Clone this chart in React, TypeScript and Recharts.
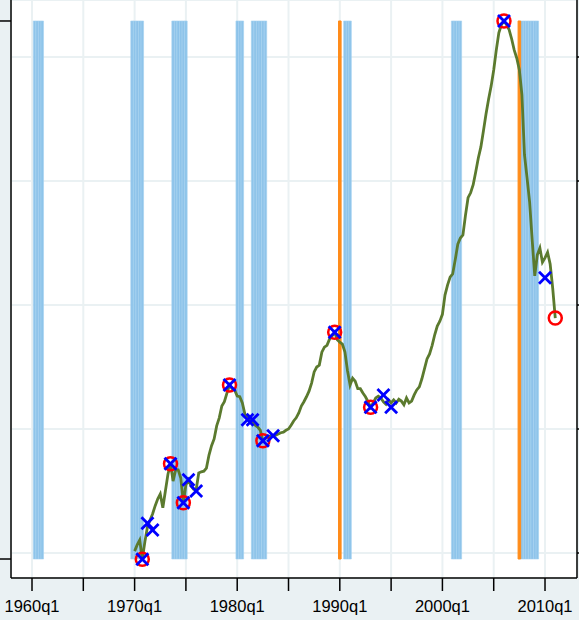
import {
  CartesianGrid,
  ComposedChart,
  Line,
  ReferenceArea,
  Scatter,
  XAxis,
  YAxis,
} from 'recharts';

// quarters counted from 1960q1 = 0
const firstQuarter = 40; // 1970q1

const housePrice = [
  80.3, 81.3, 82.1, 79.0, 81.8, 84.2, 85.3, 86.3, 87.6, 88.7,
  89.5, 87.3, 90.0, 92.7, 94.4, 91.6, 93.4, 93.4, 92.1, 88.1,
  91.0, 91.8, 90.8, 90.3, 90.2, 92.9, 93.1, 93.2, 93.7, 95.8,
  97.3, 98.4, 100.5, 101.8, 103.7, 104.4, 105.8, 107.1, 106.5, 106.3,
  105.3, 105.2, 104.2, 102.4, 101.8, 101.5, 101.0, 100.6, 100.3, 99.8,
  98.1, 98.5, 98.7, 98.9, 98.9, 99.0, 99.2, 99.4, 99.5, 99.8,
  100.0, 100.6, 101.3, 101.8, 102.6, 103.7, 104.4, 105.2, 106.1, 107.4,
  109.2, 110.0, 110.3, 112.4, 113.2, 113.5, 114.5, 115.0, 115.6, 114.4,
  114.0, 113.7, 112.4, 109.4, 107.1, 108.2, 107.7, 106.5, 106.5, 105.8,
  105.2, 104.4, 103.5, 104.2, 105.0, 105.3, 105.0, 104.4, 104.0, 104.7,
  104.2, 104.7, 104.2, 104.8, 104.5, 103.9, 105.0, 104.2, 104.5, 105.5,
  106.3, 106.8, 108.1, 109.7, 111.3, 112.1, 113.5, 115.2, 116.6, 117.4,
  118.5, 121.6, 123.2, 124.5, 125.0, 127.3, 129.8, 130.8, 131.3, 134.5,
  137.3, 138.1, 139.4, 141.5, 143.7, 145.5, 148.1, 150.8, 153.2, 155.3,
  157.9, 161.1, 163.9, 165.2, 165.8, 165.2, 164.4, 162.9, 161.1, 159.8,
  157.9, 153.9, 144.2, 140.5, 136.6, 130.5, 124.7, 128.1, 129.2, 126.9,
  127.6, 128.5, 126.6, 122.7, 117.9,
];

const turnQuarters = [43, 54, 59, 77, 90, 118, 132, 184, 204];
const turnValues = [79.0, 94.4, 88.1, 107.1, 98.1, 115.6, 103.5, 165.8, 117.9];

const crossQuarters = [43, 45, 47, 54, 59, 61, 64, 77, 84, 86, 90, 94, 118, 132, 137, 140, 184, 200];
const crossValues = [
  79.0, 84.8, 83.7, 94.4, 88.1, 91.8, 90.0, 107.1, 101.5, 101.5,
  98.1, 98.9, 115.6, 103.5, 105.5, 103.5, 165.8, 124.4,
];

// NBER recessions, first and last quarter
const recessions = [
  [1, 4], [39, 43], [55, 60], [80, 82], [86, 91], [122, 124], [164, 167], [191, 197],
];
const crisisQuarters = [120, 190];

const xTicks = [0, 20, 40, 60, 80, 100, 120, 140, 160, 180, 200];
const priceTicks = [80, 100, 120, 140, 160];

const lineData = housePrice.map((v, i) => ({ q: firstQuarter + i, v }));
const turnData = turnQuarters.map((q, i) => ({ q, v: turnValues[i] }));
const crossData = crossQuarters.map((q, i) => ({ q, v: crossValues[i] }));
const recessionQuarters = recessions.flatMap(([a, b]) =>
  Array.from({ length: b - a + 1 }, (_, k) => a + k),
);

const quarterLabel = (v: number) => (v % 40 === 0 ? `${1960 + v / 4}q1` : '');

const RedCircle = (props: any) => (
  <circle cx={props.cx} cy={props.cy} r={6.5} fill="none" stroke="#ff0000" strokeWidth={2.5} />
);

const BlueCross = (props: any) => {
  const { cx, cy } = props;
  const s = 6;
  return (
    <g stroke="#0000ff" strokeWidth={2.8}>
      <line x1={cx - s} y1={cy - s} x2={cx + s} y2={cy + s} />
      <line x1={cx - s} y1={cy + s} x2={cx + s} y2={cy - s} />
    </g>
  );
};

export default function App() {
  return (
    <div
      style={{
        position: 'fixed',
        left: 0,
        top: 0,
        width: 579,
        height: 620,
        overflow: 'hidden',
        background: '#eaf1f3',
        fontFamily: '"Liberation Sans", Arial, sans-serif',
      }}
    >
      <ComposedChart width={579} height={620} data={lineData} margin={{ top: 0, right: 0, bottom: 0, left: 0 }}>
        <CartesianGrid yAxisId="right" fill="#ffffff" stroke="#eaf1f3" strokeWidth={2} />
        <XAxis
          dataKey="q"
          type="number"
          domain={[-8.19, 212.47]}
          allowDataOverflow
          ticks={xTicks}
          tickFormatter={quarterLabel}
          interval={0}
          height={42}
          tickSize={13}
          tickMargin={9}
          stroke="#000"
          strokeWidth={1.5}
          tick={{ fill: '#000', fontSize: 16.5 }}
        />
        <YAxis
          yAxisId="left"
          type="number"
          domain={[-0.0353, 1.039]}
          allowDataOverflow
          ticks={[0, 1]}
          tickFormatter={() => ''}
          width={11}
          tickSize={11}
          stroke="#000"
          strokeWidth={1.5}
        />
        <YAxis
          yAxisId="right"
          orientation="right"
          type="number"
          domain={[75.97, 169.19]}
          allowDataOverflow
          ticks={priceTicks}
          tickFormatter={() => ''}
          width={2}
          tickSize={2}
          stroke="#000"
          strokeWidth={1.5}
        />
        {recessionQuarters.map((q) => (
          <ReferenceArea
            key={`r${q}`}
            yAxisId="left"
            x1={q - 0.5}
            x2={q + 0.5}
            y1={0}
            y2={1}
            fill="#8ec4ea"
            fillOpacity={1}
            stroke="#a6d2f0"
            strokeWidth={0.6}
          />
        ))}
        {crisisQuarters.map((q) => (
          <ReferenceArea
            key={`c${q}`}
            yAxisId="left"
            x1={q - 0.5}
            x2={q + 0.5}
            y1={0}
            y2={1}
            fill="#ff8c1a"
            fillOpacity={1}
            stroke="#ff8c1a"
            strokeWidth={1}
          />
        ))}
        <Line
          yAxisId="right"
          dataKey="v"
          type="linear"
          stroke="#5b7a2e"
          strokeWidth={2.8}
          dot={false}
          isAnimationActive={false}
        />
        <Scatter yAxisId="right" data={turnData} dataKey="v" shape={RedCircle} isAnimationActive={false} />
        <Scatter yAxisId="right" data={crossData} dataKey="v" shape={BlueCross} isAnimationActive={false} />
      </ComposedChart>
    </div>
  );
}
